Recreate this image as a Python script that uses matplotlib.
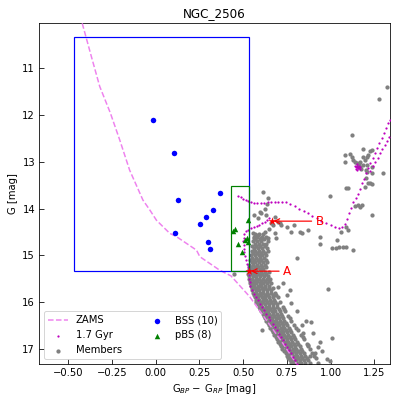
import numpy as np
import matplotlib
matplotlib.use("Agg")
import matplotlib.pyplot as plt
from matplotlib.patches import Rectangle

# ZAMS curve
zams_x = [-0.42, -0.37, -0.32, -0.26, -0.206, -0.149, -0.073, -0.034, 0.004, 0.08, 0.118,
          0.233, 0.252, 0.366, 0.43, 0.538, 0.633, 0.728, 0.804]
zams_y = [10.04, 10.72, 11.39, 11.95, 12.53, 13.18, 13.82, 14.03, 14.25, 14.53, 14.6,
          14.89, 15.03, 15.32, 15.44, 15.89, 16.39, 16.89, 17.32]

# 1.7 Gyr isochrone points
iso_x = [0.805, 0.795, 0.785, 0.775, 0.764, 0.752, 0.740, 0.728, 0.716, 0.704, 0.692, 0.680,
         0.668, 0.656, 0.645, 0.633, 0.621, 0.609, 0.597, 0.585, 0.573, 0.561, 0.549, 0.540,
         0.537, 0.536, 0.534, 0.531, 0.527, 0.522, 0.516, 0.511, 0.507, 0.504, 0.502, 0.501,
         0.503, 0.507, 0.515, 0.528, 0.545, 0.561, 0.578, 0.593, 0.608, 0.622, 0.635, 0.645,
         0.472, 0.487, 0.500, 0.515, 0.530, 0.545, 0.560, 0.580, 0.600, 0.620, 0.640, 0.660,
         0.680, 0.700, 0.720, 0.745, 0.770, 0.795, 0.820, 0.845, 0.870, 0.895, 0.920, 0.945,
         0.976, 1.000, 1.024, 1.045, 1.065, 1.080, 1.095, 1.105, 1.115, 1.128, 1.143, 1.158,
         1.168, 1.178, 1.188, 1.200, 1.213, 1.226, 1.240, 1.253, 1.266, 1.279, 1.292, 1.305,
         1.318, 1.330, 1.340,
         1.225, 1.240, 1.254, 1.268, 1.282, 1.296, 1.310, 1.322, 1.334,
         1.140, 1.145, 1.150, 1.155, 1.148, 1.160, 1.143, 1.152, 1.158, 1.165, 1.170]
iso_y = [17.32, 17.25, 17.17, 17.10, 17.03, 16.96, 16.89, 16.82, 16.75, 16.68, 16.60, 16.53,
         16.46, 16.39, 16.32, 16.25, 16.18, 16.11, 16.04, 15.96, 15.89, 15.82, 15.75, 15.66,
         15.58, 15.50, 15.42, 15.34, 15.26, 15.18, 15.10, 15.02, 14.94, 14.86, 14.78, 14.70,
         14.62, 14.55, 14.49, 14.45, 14.42, 14.39, 14.37, 14.35, 14.32, 14.29, 14.25, 14.21,
         13.73, 13.76, 13.79, 13.81, 13.83, 13.86, 13.88, 13.89, 13.89, 13.88, 13.87, 13.86,
         13.86, 13.85, 13.85, 13.87, 13.91, 13.95, 14.00, 14.05, 14.10, 14.16, 14.21, 14.26,
         14.32, 14.36, 14.39, 14.41, 14.40, 14.33, 14.22, 14.10, 13.98, 13.87, 13.78, 13.70,
         13.58, 13.46, 13.36, 13.25, 13.14, 13.03, 12.92, 12.82, 12.71, 12.60, 12.50, 12.39,
         12.28, 12.18, 12.10,
         13.20, 13.10, 13.00, 12.91, 12.82, 12.73, 12.64, 12.56, 12.48,
         13.08, 13.12, 13.10, 13.13, 13.05, 13.09, 13.15, 13.17, 13.14, 13.11, 13.16]

# members: dense main sequence, one row of colours per magnitude
ms_mag = [14.55, 14.60, 14.65, 14.70, 14.75, 14.80, 14.85, 14.90, 14.95, 15.00, 15.05, 15.10,
          15.15, 15.20, 15.25, 15.30, 15.35, 15.40, 15.45, 15.50, 15.55, 15.60, 15.65, 15.70,
          15.75, 15.80, 15.85, 15.90, 15.95, 16.00, 16.05, 16.10, 16.15, 16.20, 16.25, 16.30,
          16.35, 16.40, 16.45, 16.50, 16.55, 16.60, 16.65, 16.70, 16.75, 16.80, 16.85, 16.90,
          16.95, 17.00, 17.05, 17.10, 17.15, 17.20, 17.25, 17.30]
ms_col = [
    [0.565, 0.590, 0.615],
    [0.560, 0.580, 0.605, 0.630],
    [0.570, 0.595, 0.620],
    [0.555, 0.578, 0.600, 0.640],
    [0.565, 0.588, 0.612, 0.628],
    [0.552, 0.575, 0.598, 0.622],
    [0.560, 0.585, 0.605, 0.635],
    [0.548, 0.570, 0.592, 0.615, 0.640],
    [0.556, 0.580, 0.600, 0.625],
    [0.545, 0.565, 0.588, 0.610, 0.632],
    [0.552, 0.575, 0.596, 0.620],
    [0.540, 0.560, 0.582, 0.604, 0.628],
    [0.548, 0.570, 0.590, 0.612, 0.635],
    [0.535, 0.556, 0.578, 0.600, 0.622],
    [0.542, 0.565, 0.586, 0.608, 0.630],
    [0.532, 0.552, 0.572, 0.594, 0.616],
    [0.538, 0.560, 0.580, 0.602, 0.625, 0.645],
    [0.530, 0.548, 0.568, 0.588, 0.610, 0.632],
    [0.536, 0.556, 0.576, 0.597, 0.618, 0.640],
    [0.534, 0.552, 0.572, 0.592, 0.612, 0.634, 0.655],
    [0.540, 0.560, 0.580, 0.600, 0.622, 0.645],
    [0.538, 0.556, 0.575, 0.595, 0.615, 0.636, 0.660],
    [0.545, 0.564, 0.584, 0.604, 0.625, 0.648],
    [0.548, 0.566, 0.586, 0.606, 0.626, 0.648, 0.672],
    [0.552, 0.572, 0.592, 0.612, 0.634, 0.658],
    [0.556, 0.575, 0.595, 0.615, 0.636, 0.658, 0.684],
    [0.562, 0.582, 0.602, 0.622, 0.644, 0.668, 0.690],
    [0.566, 0.585, 0.605, 0.625, 0.646, 0.670, 0.698],
    [0.572, 0.592, 0.612, 0.632, 0.654, 0.678],
    [0.576, 0.595, 0.615, 0.636, 0.658, 0.682, 0.710],
    [0.584, 0.604, 0.624, 0.645, 0.668, 0.692],
    [0.590, 0.608, 0.628, 0.648, 0.670, 0.694, 0.725],
    [0.596, 0.616, 0.636, 0.656, 0.678, 0.702, 0.735],
    [0.604, 0.622, 0.642, 0.662, 0.684, 0.708, 0.740],
    [0.612, 0.630, 0.650, 0.670, 0.692, 0.716],
    [0.618, 0.636, 0.656, 0.676, 0.698, 0.722, 0.755],
    [0.626, 0.645, 0.665, 0.685, 0.706, 0.730, 0.768],
    [0.632, 0.650, 0.670, 0.690, 0.712, 0.736, 0.775],
    [0.640, 0.658, 0.678, 0.698, 0.720, 0.745],
    [0.648, 0.666, 0.686, 0.706, 0.728, 0.752, 0.790],
    [0.655, 0.674, 0.694, 0.714, 0.736, 0.760, 0.800],
    [0.662, 0.680, 0.700, 0.720, 0.742, 0.768, 0.815],
    [0.670, 0.688, 0.708, 0.728, 0.750, 0.776],
    [0.678, 0.696, 0.716, 0.736, 0.758, 0.784, 0.830],
    [0.686, 0.704, 0.724, 0.744, 0.766, 0.792, 0.842],
    [0.692, 0.710, 0.730, 0.750, 0.772, 0.798, 0.850],
    [0.700, 0.718, 0.738, 0.758, 0.780, 0.806],
    [0.708, 0.726, 0.746, 0.766, 0.788, 0.815, 0.862],
    [0.716, 0.734, 0.754, 0.774, 0.796, 0.824, 0.870],
    [0.724, 0.742, 0.762, 0.782, 0.804, 0.830, 0.880],
    [0.732, 0.750, 0.770, 0.790, 0.812, 0.838],
    [0.742, 0.760, 0.780, 0.800, 0.822, 0.848, 0.895],
    [0.750, 0.768, 0.788, 0.808, 0.830, 0.856, 0.905],
    [0.758, 0.776, 0.796, 0.816, 0.838, 0.864, 0.915],
    [0.766, 0.784, 0.804, 0.824, 0.846, 0.872],
    [0.775, 0.792, 0.812, 0.832, 0.854, 0.880, 0.925],
]

# members outside the dense band
field_x = [0.614, 0.643, 0.635, 0.622, 0.603, 0.587, 0.561, 0.595, 0.633, 0.680, 0.698, 0.717,
           0.709, 0.748, 0.776, 0.834, 0.872, 0.793, 0.938, 0.938, 0.995, 1.034, 0.805, 0.650,
           0.622, 0.680, 0.583, 0.564, 0.600, 0.640, 0.690, 0.555, 0.660, 0.670, 0.824, 0.445,
           1.005, 1.030, 1.050, 1.070, 1.090, 1.130, 1.090, 1.100, 1.060, 1.177, 1.234, 1.090,
           1.100, 1.158, 1.140, 1.165,
           1.081, 1.081, 1.110, 1.120, 1.130, 1.140, 1.148, 1.160, 1.167, 1.182, 1.186, 1.196,
           1.205, 1.215, 1.225, 1.234, 1.186, 1.205, 1.234, 1.200, 1.205, 1.234, 1.300, 1.200,
           1.215, 1.224, 1.196, 1.236, 1.155, 1.170, 1.175,
           1.324, 1.278, 1.123,
           0.728, 0.700, 0.776, 0.834, 0.890, 0.843, 0.900, 0.938, 0.872, 1.005, 0.929, 0.910,
           0.977, 0.996, 0.605, 0.986, 0.950, 0.880, 0.860, 0.810, 0.750, 0.770]
field_y = [13.64, 13.78, 13.90, 14.00, 14.10, 14.21, 14.14, 14.07, 14.14, 14.18, 14.28, 14.36,
           14.32, 14.39, 14.50, 14.53, 14.46, 14.36, 14.60, 14.75, 13.73, 14.68, 15.05, 14.43,
           14.50, 14.53, 14.57, 14.64, 14.64, 14.64, 14.64, 14.53, 14.30, 14.35, 14.50, 15.39,
           14.85, 14.85, 14.83, 14.82, 14.82, 14.89, 14.39, 14.45, 14.50, 13.93, 14.14, 13.57,
           13.57, 13.93, 13.95, 13.97,
           12.86, 13.00, 12.84, 12.90, 12.96, 13.00, 13.03, 13.05, 13.00, 12.73, 12.89, 12.96,
           12.89, 12.85, 12.78, 12.75, 13.07, 13.07, 13.11, 13.18, 13.21, 13.25, 13.24, 13.35,
           13.46, 13.45, 13.53, 13.47, 13.10, 13.12, 13.15,
           11.41, 11.66, 12.43,
           15.60, 15.68, 16.03, 16.50, 16.43, 16.67, 16.67, 16.85, 16.92, 16.78, 16.96, 17.10,
           17.21, 17.26, 16.59, 15.72, 17.05, 17.15, 16.40, 16.20, 15.85, 15.75]

# blue stragglers and probable blue stragglers
bss_x = [-0.015, 0.103, 0.13, 0.37, 0.328, 0.286, 0.252, 0.11, 0.30, 0.309]
bss_y = [12.11, 12.81, 13.82, 13.66, 14.03, 14.18, 14.34, 14.52, 14.72, 14.86]
pbs_x = [0.530, 0.452, 0.442, 0.519, 0.511, 0.530, 0.469, 0.496]
pbs_y = [14.25, 14.43, 14.48, 14.62, 14.68, 14.72, 14.75, 14.93]

# reference points A (turn-off) and B
pt_A = (0.533, 15.34)
pt_B = (0.662, 14.27)

mem_x = list(field_x)
mem_y = list(field_y)
for m, cols in zip(ms_mag, ms_col):
    mem_x += cols
    mem_y += [m] * len(cols)

fig = plt.figure(figsize=(399 / 72, 402 / 72), dpi=72)
ax = fig.add_axes([0.0965, 0.094, 0.880, 0.849])

h1, = ax.plot(zams_x, zams_y, '--', color='violet', lw=1.5, label='ZAMS', zorder=3)
h2 = ax.scatter(iso_x, iso_y, s=5, c='m', linewidths=0, label='1.7 Gyr', zorder=3)
h3 = ax.scatter(mem_x, mem_y, s=18, c='gray', linewidths=0, label='Members', zorder=2)
h4 = ax.scatter(bss_x, bss_y, s=30, c='blue', linewidths=0, label='BSS (10)', zorder=4)
h5 = ax.scatter(pbs_x, pbs_y, s=30, c='green', marker='^', linewidths=0, label='pBS (8)', zorder=4)

# selection boxes
ax.add_patch(Rectangle((pt_A[0] - 1.0, pt_A[1] - 5.0), 1.0, 5.0, fill=False,
                       edgecolor='blue', lw=1.2, zorder=3))
ax.add_patch(Rectangle((pt_A[0] - 0.1, pt_B[1] - 0.75), 0.1, pt_A[1] - pt_B[1] + 0.75,
                       fill=False, edgecolor='green', lw=1.2, zorder=3))

ax.scatter(*pt_A, marker='*', s=70, c='red', linewidths=0, zorder=5)
ax.scatter(*pt_B, marker='*', s=70, c='red', linewidths=0, zorder=5)
ax.annotate('A', xy=pt_A, xytext=(pt_A[0] + 0.195, pt_A[1]), color='red', fontsize=12,
            va='center', ha='left', arrowprops=dict(arrowstyle='->', color='red', lw=1.2))
ax.annotate('B', xy=pt_B, xytext=(pt_B[0] + 0.252, pt_B[1]), color='red', fontsize=12,
            va='center', ha='left', arrowprops=dict(arrowstyle='->', color='red', lw=1.2))

ax.set_xlim(-0.67, 1.337)
ax.set_ylim(17.33, 10.03)
ax.tick_params(direction='in', length=5)
ax.set_title('NGC_2506')
ax.set_xlabel(r'G$_{BP}-$ G$_{RP}$ [mag]')
ax.set_ylabel('G [mag]')
ax.legend(handles=[h1, h2, h3, h4, h5], loc='lower left', ncol=2, columnspacing=2.5)

fig.savefig('out.png', dpi=72)
